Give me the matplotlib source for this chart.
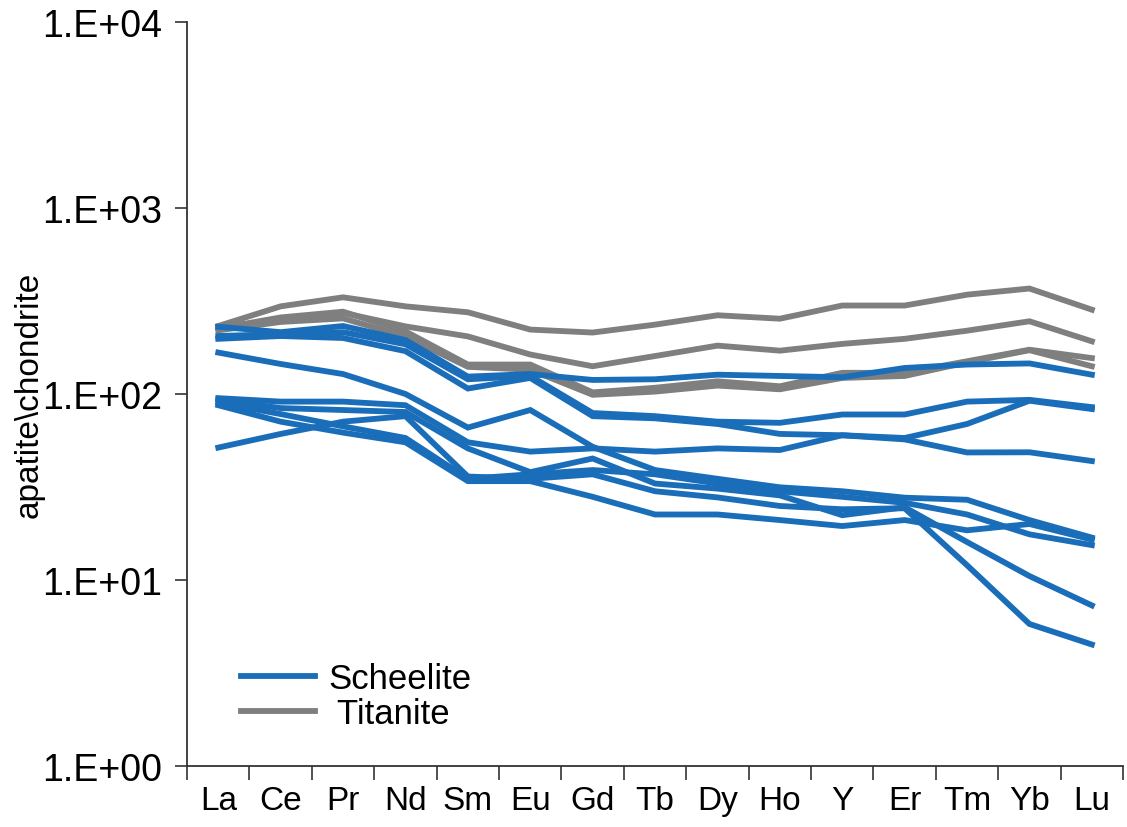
import matplotlib
matplotlib.use("Agg")
import numpy as np
import matplotlib.pyplot as plt
from matplotlib import font_manager
from matplotlib.lines import Line2D
from matplotlib.ticker import FixedLocator, FuncFormatter, NullLocator, NullFormatter

plt.rcParams['font.family'] = ['Liberation Sans', 'DejaVu Sans']

installed = {f.name for f in font_manager.fontManager.ttflist}
has_narrow = "Liberation Sans Narrow" in installed
narrow_family = ['Liberation Sans Narrow', 'Liberation Sans'] if has_narrow else ['Liberation Sans']
narrow_size = 28 if has_narrow else 24

elements = ["La", "Ce", "Pr", "Nd", "Sm", "Eu", "Gd", "Tb", "Dy", "Ho", "Y", "Er", "Tm", "Yb", "Lu"]

# Chondrite-normalised REE patterns, scheelite
scheelite_1 = [230, 215, 232, 195, 124, 128, 119, 120, 127, 125, 123, 138, 144, 146, 127]
scheelite_2 = [205, 210, 215, 185, 120, 125, 79, 76, 71, 70, 77.6, 77.6, 91, 93, 85]
scheelite_3 = [198, 205, 200, 170, 107, 122, 76, 74, 69, 61, 60, 58, 69, 92, 83]
scheelite_4 = [167, 145, 128, 100, 66, 82, 52, 39, 35, 31.5, 30, 27.7, 27, 21, 16.9]
scheelite_5 = [95, 91, 91, 87, 55, 49, 51, 49, 51, 50, 60, 57, 48.5, 48.6, 43.6]
scheelite_6 = [93, 84, 82, 80, 51, 38, 45, 33, 31, 28.5, 22.3, 24.6, 16, 10.5, 7.3]
scheelite_7 = [51.5, 61, 71, 76, 36, 35, 37, 30, 27.8, 25, 24, 24.3, 12, 5.8, 4.5]
scheelite_8 = [87, 71, 62, 55, 34, 34, 28, 22.5, 22.5, 21, 19.5, 21, 18.5, 20, 16.5]
scheelite_9 = [90, 78, 67, 58, 35, 37, 39, 37, 33, 30, 28, 26, 22.5, 17.6, 15.4]

# Chondrite-normalised REE patterns, titanite
titanite_1 = [232, 296, 331, 296, 275, 222, 214, 236, 265, 254, 299, 299, 342, 369, 284]
titanite_2 = [228, 251, 273, 231, 204, 163, 141, 160, 182, 171, 186, 198, 219, 246, 192]
titanite_3 = [225, 258, 277, 217, 144, 144, 102, 108, 117, 110, 130, 130, 150, 173, 156]
titanite_4 = [220, 244, 255, 204, 140, 135, 99, 103, 111, 106, 122, 125, 148, 172, 141]

scheelite = [scheelite_1, scheelite_2, scheelite_3, scheelite_4, scheelite_5,
             scheelite_6, scheelite_7, scheelite_8, scheelite_9]
titanite = [titanite_1, titanite_2, titanite_3, titanite_4]

blue = "#1a6eb9"
grey = "#7f7f7f"
lw = 4.2

fig = plt.figure(figsize=(11.27, 8.28), dpi=100)
ax = fig.add_axes([0.166, 0.0737, 0.8305, 0.8985])

x = np.arange(len(elements))
for series in titanite:
    ax.plot(x, series, color=grey, lw=lw, solid_joinstyle="miter", zorder=2)
for series in scheelite:
    ax.plot(x, series, color=blue, lw=lw, solid_joinstyle="miter", zorder=3)

ax.set_yscale("log")
ax.set_ylim(1, 1e4)
ax.set_xlim(-0.5, len(elements) - 0.5)

# y axis: decades only
ax.yaxis.set_major_locator(FixedLocator([1, 10, 100, 1000, 10000]))
ax.yaxis.set_minor_locator(NullLocator())
ax.yaxis.set_major_formatter(FuncFormatter(lambda v, p: "1.E+%02d" % int(round(np.log10(v)))))

# x axis: tick marks between elements, labels centred on elements
ax.xaxis.set_major_locator(FixedLocator(np.arange(-0.5, len(elements), 1.0)))
ax.xaxis.set_major_formatter(NullFormatter())
ax.xaxis.set_minor_locator(FixedLocator(x))
ax.set_xticklabels(elements, minor=True, family=narrow_family, fontsize=narrow_size)

ax.tick_params(axis="x", which="major", direction="out", length=10, width=1.2, color="#333333")
ax.tick_params(axis="x", which="minor", length=0, pad=14)
ax.tick_params(axis="y", which="major", direction="out", length=9, width=1.2, color="#333333",
               labelsize=27, pad=9)

for side in ("top", "right"):
    ax.spines[side].set_visible(False)
for side in ("left", "bottom"):
    ax.spines[side].set_linewidth(1.3)
    ax.spines[side].set_color("#333333")

ax.set_ylabel("apatite\\chondrite", fontsize=narrow_size, family=narrow_family)
ax.yaxis.set_label_coords(-0.152, 0.5)

handles = [Line2D([], [], color=blue, lw=lw), Line2D([], [], color=grey, lw=lw)]
ax.legend(handles, ["Scheelite", " Titanite"], loc="center left",
          bbox_to_anchor=(0.024, 0.094), frameon=False, fontsize=25,
          handlelength=2.15, handletextpad=0.37, labelspacing=0.08)

fig.savefig("out.png", dpi=100, facecolor="white")
